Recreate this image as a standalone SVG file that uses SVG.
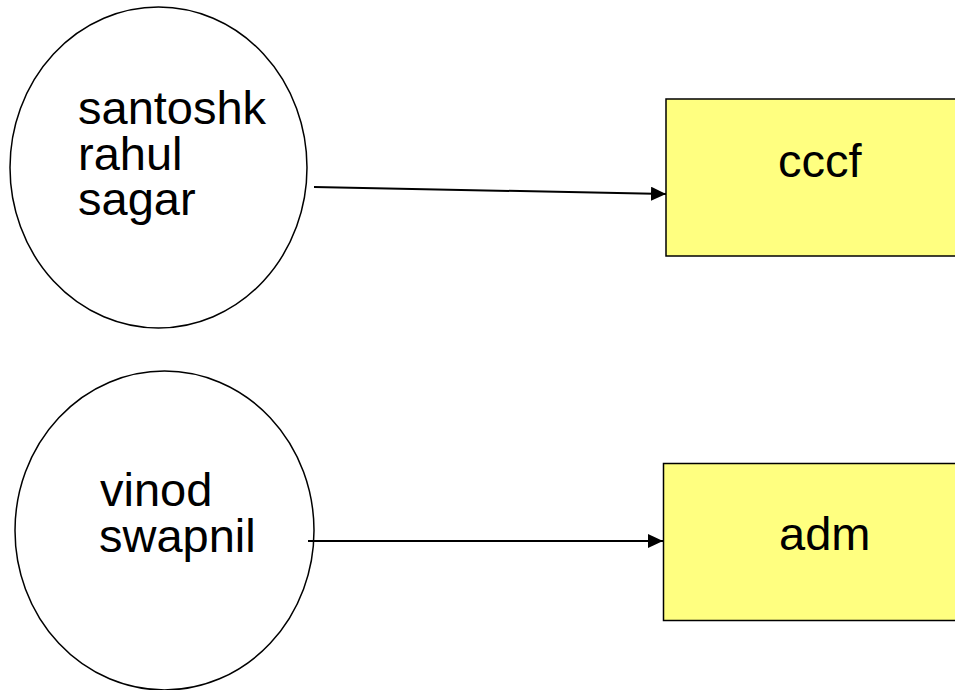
<svg xmlns="http://www.w3.org/2000/svg" width="955" height="690" viewBox="0 0 955 690">
<style>
.ell{fill:#fff;stroke:#000;stroke-width:1.5}
.box{fill:#ffff80;stroke:#000;stroke-width:1.5}
.t{font-family:"Liberation Sans",Arial,sans-serif;font-size:47px;fill:#000}
.c{fill:none;stroke:#000;stroke-width:2}
</style>
<defs>
<marker id="ah" markerUnits="userSpaceOnUse" markerWidth="16" markerHeight="14" refX="15" refY="7" orient="auto">
<path d="M0,0 L15,7 L0,14 Z" fill="#000"/>
</marker>
</defs>
<rect width="955" height="690" fill="#fff"/>
<g id="n1">
<ellipse class="ell" cx="158.5" cy="167.5" rx="148.5" ry="160.5"/>
<text class="t" x="78" y="124">santoshk</text>
<text class="t" x="78" y="170">rahul</text>
<text class="t" x="78" y="215">sagar</text>
</g>
<g id="n2">
<ellipse class="ell" cx="164.5" cy="530.5" rx="149.5" ry="159.5"/>
<text class="t" x="100" y="506">vinod</text>
<text class="t" x="99" y="552">swapnil</text>
</g>
<g id="n3">
<rect class="box" x="666" y="99" width="310" height="157"/>
<text class="t" x="778" y="177">cccf</text>
</g>
<g id="n4">
<rect class="box" x="663.5" y="463.5" width="320" height="157"/>
<text class="t" x="779" y="550">adm</text>
</g>
<g id="connectors">
<line class="c" x1="314" y1="187" x2="666" y2="194" marker-end="url(#ah)"/>
<line class="c" x1="308" y1="541" x2="663" y2="541" marker-end="url(#ah)"/>
</g>
</svg>
